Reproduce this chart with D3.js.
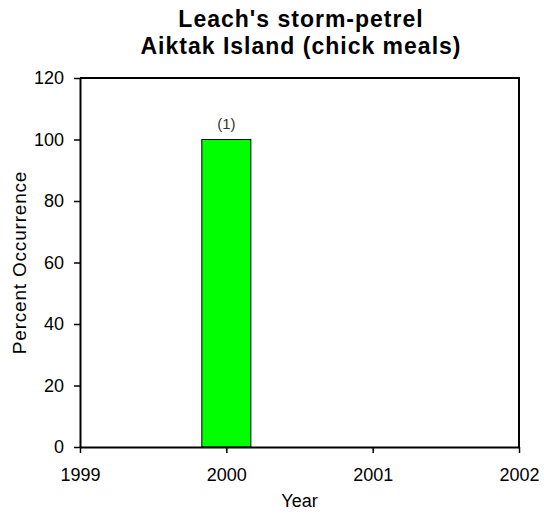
<!DOCTYPE html>
<html>
<head>
<meta charset="utf-8">
<script src="https://cdn.jsdelivr.net/npm/d3@7"></script>
<style>
  body { margin: 0; background: #fff; }
  text { font-family: "Liberation Sans", Arial, sans-serif; fill: #000; }
</style>
</head>
<body>
<div id="viz"></div>
<script>
// chart data
const years = [2000];
const values = [100];
const sampleSizes = ["(1)"];
const xTicks = [1999, 2000, 2001, 2002];
const yTicks = [0, 20, 40, 60, 80, 100, 120];
const titleLines = ["Leach's storm-petrel", "Aiktak Island (chick meals)"];

const width = 544, height = 518;
const margin = { top: 78, right: 25, bottom: 71, left: 80 };

const svg = d3.select("#viz").append("svg")
  .attr("width", width)
  .attr("height", height);

const x = d3.scaleLinear().domain([1999, 2002]).range([margin.left, width - margin.right]);
const y = d3.scaleLinear().domain([0, 120]).range([height - margin.bottom, margin.top]);

const barW = (x(2001) - x(2000)) * 0.335;

// bars
svg.selectAll(".bar")
  .data(years)
  .enter().append("rect")
  .attr("class", "bar")
  .attr("x", (d) => x(d) - barW / 2)
  .attr("y", (d, i) => y(values[i]))
  .attr("width", barW)
  .attr("height", (d, i) => y(0) - y(values[i]))
  .attr("fill", "#00ff00")
  .attr("stroke", "#000")
  .attr("stroke-width", 1);

// sample size labels
svg.selectAll(".n")
  .data(years)
  .enter().append("text")
  .attr("x", (d) => x(d))
  .attr("y", (d, i) => y(values[i]) - 11)
  .attr("text-anchor", "middle")
  .style("font-size", "15px")
  .style("fill", "#333")
  .text((d, i) => sampleSizes[i]);

// frame (top and right)
svg.append("path")
  .attr("d", `M${x(1999)},${y(120)}H${x(2002)}V${y(0)}`)
  .attr("fill", "none")
  .attr("stroke", "#000")
  .attr("stroke-width", 2);

// axes
const xAxis = svg.append("g")
  .attr("transform", `translate(0,${y(0)})`)
  .call(d3.axisBottom(x).tickValues(xTicks).tickFormat(d3.format("d")).tickSize(6).tickSizeOuter(0));

const yAxis = svg.append("g")
  .attr("transform", `translate(${x(1999)},0)`)
  .call(d3.axisLeft(y).tickValues(yTicks).tickSize(6).tickSizeOuter(0));

[xAxis, yAxis].forEach(g => {
  g.select(".domain").attr("stroke-width", 2);
  g.selectAll(".tick line").attr("stroke-width", 1.5);
  g.selectAll("text").style("font-size", "18px").style("font-family", "Liberation Sans, Arial, sans-serif");
});
xAxis.selectAll("text").attr("y", 34).attr("dy", 0);
yAxis.selectAll("text").attr("x", -16);

// titles
svg.selectAll(".title")
  .data(titleLines)
  .enter().append("text")
  .attr("x", 301)
  .attr("y", (d, i) => 27 + i * 27)
  .attr("text-anchor", "middle")
  .style("font-size", "23px")
  .style("font-weight", "bold")
  .style("letter-spacing", "1px")
  .text(d => d);

svg.append("text")
  .attr("x", (x(1999) + x(2002)) / 2)
  .attr("y", 507)
  .attr("text-anchor", "middle")
  .style("font-size", "18px")
  .text("Year");

svg.append("text")
  .attr("transform", `translate(26,${(y(0) + y(120)) / 2}) rotate(-90)`)
  .attr("text-anchor", "middle")
  .style("font-size", "19px")
  .style("letter-spacing", "0.8px")
  .text("Percent Occurrence");
</script>
</body>
</html>
